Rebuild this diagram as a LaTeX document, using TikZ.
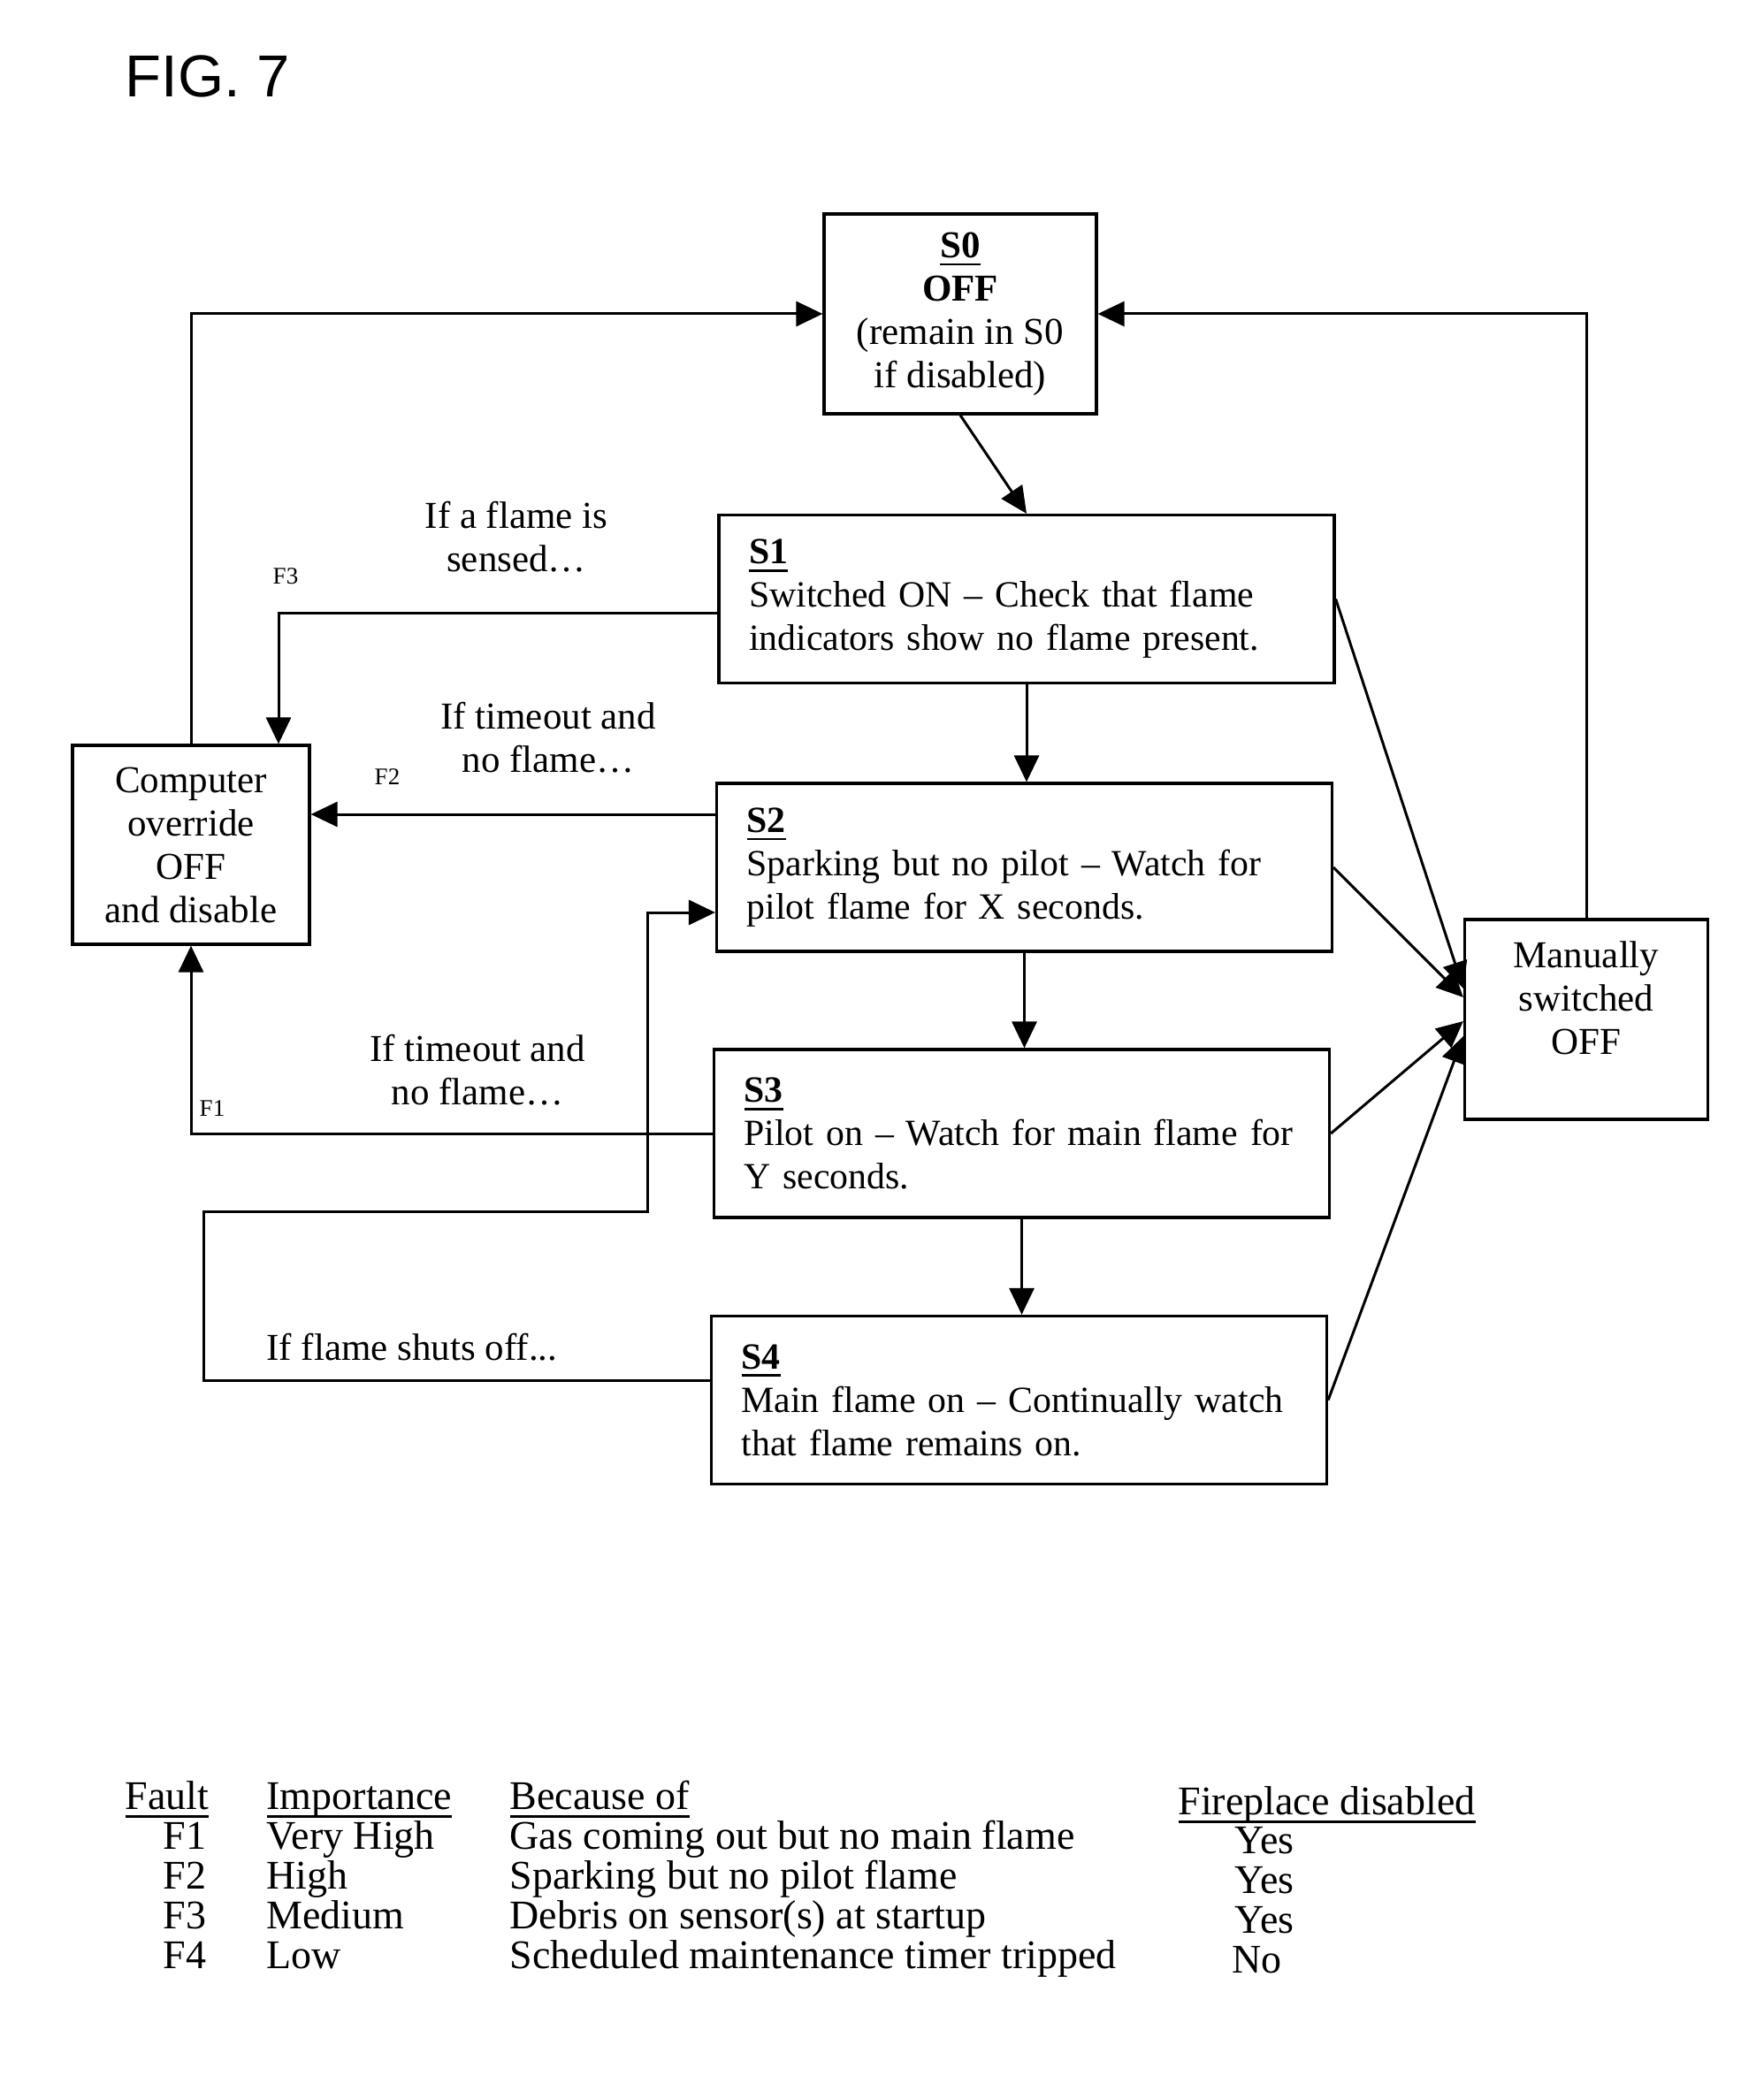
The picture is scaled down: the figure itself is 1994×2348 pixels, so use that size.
\documentclass[tikz,border=0pt]{standalone}
\usepackage{fontspec}
\setmainfont{Liberation Serif}
\newfontfamily\figfont{Liberation Sans}
\usetikzlibrary{arrows.meta}
\newsavebox\ulbox
\newcommand\uln[2][4.5pt]{\sbox\ulbox{#2}\rlap{\raisebox{-#1}{\rule{\wd\ulbox}{1.3pt}}}\usebox\ulbox}
\newcommand\oneline[1]{\mbox{#1}}
\begin{document}
\begin{tikzpicture}[x=0.5pt,y=-0.5pt,
  line width=1.6pt,
  arr/.style={-{Triangle[length=15pt,width=14pt]}, line width=1.5pt},
  boxfont/.style={font=\fontsize{21.5}{24.5}\selectfont},
  stfont/.style={font=\fontsize{20.9}{24.5}\selectfont},
  statebox/.style={draw, stfont, align=left, text width=314pt, inner xsep=17pt, inner ysep=0pt, minimum height=95pt},
  cbox/.style={draw, boxfont, align=center, inner sep=0pt},
  lbl/.style={boxfont, align=center, inner sep=0pt},
  flbl/.style={font=\fontsize{13.5}{15}\selectfont, inner sep=0pt},
  tbl/.style={font=\fontsize{23}{25}\selectfont, inner sep=0pt, anchor=base west},
]
\useasboundingbox (0,0) rectangle (1994,2348);
\fill[white] (0,0) rectangle (1994,2348);

\node[font=\fontsize{33.5}{36}\figfont, anchor=base west, inner sep=0pt] (fig) at (140,110) {FIG. 7};

% states
\node[cbox, minimum width=154pt, minimum height=113pt] (S0) at (1086,355)
  {\uln{\textbf{S0}}\\ \textbf{OFF}\\ (remain in S0\\ if disabled)};
\node[statebox] (S1) at (1161,677.5)
  {\uln{\textbf{S1}}\\ \oneline{Switched ON -- Check that flame}\\ \oneline{indicators show no flame present.}};
\node[statebox] (S2) at (1158.5,981)
  {\uln{\textbf{S2}}\\ \oneline{Sparking but no pilot -- Watch for}\\ \oneline{pilot flame for X seconds.}};
\node[statebox] (S3) at (1155.5,1282)
  {\uln{\textbf{S3}}\\ \oneline{Pilot on -- Watch for main flame for}\\ \oneline{Y seconds.}};
\node[statebox] (S4) at (1152.5,1583.5)
  {\uln{\textbf{S4}}\\ \oneline{Main flame on -- Continually watch}\\ \oneline{that flame remains on.}};
\node[cbox, minimum width=134pt, minimum height=112.5pt] (C) at (216,955.5)
  {Computer\\ override\\ OFF\\ and disable};
\node[cbox, minimum width=137.5pt, minimum height=113pt] (M) at (1794,1153)
  {Manually\\ switched\\ OFF\\ \mbox{}};

% helper coordinates
\coordinate (y693) at (0,693);
\coordinate (x315) at (315,0);
\coordinate (y921) at (0,921);
\coordinate (y1561) at (0,1561);
\coordinate (k1) at (230,1370);
\coordinate (k2) at (732,1032);
\coordinate (m1) at (0,1118);
\coordinate (m2) at (0,1128);
\coordinate (m3) at (0,1155);
\coordinate (m4) at (0,1172);

% main sequence
\draw[arr] (S0.south) -- (S1.north);
\draw[arr] (S1.south) -- (S1.south |- S2.north);
\draw[arr] (S2.south) -- (S2.south |- S3.north);
\draw[arr] (S3.south) -- (S3.south |- S4.north);

% back to S0
\draw[arr] (C.north) |- (S0.west);
\draw[arr] (M.north) |- (S0.east);

% faults
\draw[arr] (S1.west |- y693) -| (C.north -| x315);
\draw[arr] (S2.west |- y921) -- (C.east |- y921);
\draw[arr] (S3.west) -| (C.south);
\draw[arr] (S4.west |- y1561) -| (k1) -| (k2) -- (S2.west |- k2);

% manual off
\draw[arr] (S1.east) -- (M.west |- m1);
\draw[arr] (S2.east) -- (M.west |- m2);
\draw[arr] (S3.east) -- (M.west |- m3);
\draw[arr] (S4.east) -- (M.west |- m4);

% labels
\node[lbl] (L1) at (584,607) {If a flame is\\ sensed\ldots};
\node[flbl] (F3) at (323,652) {F3};
\node[lbl] (L2) at (620,834) {If timeout and\\ no flame\ldots};
\node[flbl] (F2) at (438,879) {F2};
\node[lbl] (L3) at (540,1210) {If timeout and\\ no flame\ldots};
\node[flbl] (F1) at (240,1254) {F1};
\node[lbl, anchor=west] (L4) at (300,1524) {If flame shuts off...};

% table
\node[tbl] (h1) at (140,2046) {\uln[5pt]{Fault}};
\node[tbl] (h2) at (300,2046) {\uln[5pt]{Importance}};
\node[tbl] (h3) at (575,2046) {\uln[5pt]{Because of}};
\node[tbl] (h4) at (1331,2052) {\uln[5pt]{Fireplace disabled}};

\node[tbl] (a1) at (183,2091) {F1};
\node[tbl] (b1) at (300,2091) {Very High};
\node[tbl] (c1) at (575,2091) {Gas coming out but no main flame};
\node[tbl] (d1) at (1395,2096) {Yes};

\node[tbl] (a2) at (183,2136) {F2};
\node[tbl] (b2) at (300,2136) {High};
\node[tbl] (c2) at (575,2136) {Sparking but no pilot flame};
\node[tbl] (d2) at (1395,2141) {Yes};

\node[tbl] (a3) at (183,2181) {F3};
\node[tbl] (b3) at (300,2181) {Medium};
\node[tbl] (c3) at (575,2181) {Debris on sensor(s) at startup};
\node[tbl] (d3) at (1395,2186) {Yes};

\node[tbl] (a4) at (183,2226) {F4};
\node[tbl] (b4) at (300,2226) {Low};
\node[tbl] (c4) at (575,2226) {Scheduled maintenance timer tripped};
\node[tbl] (d4) at (1392,2231) {No};
\end{tikzpicture}
\end{document}
